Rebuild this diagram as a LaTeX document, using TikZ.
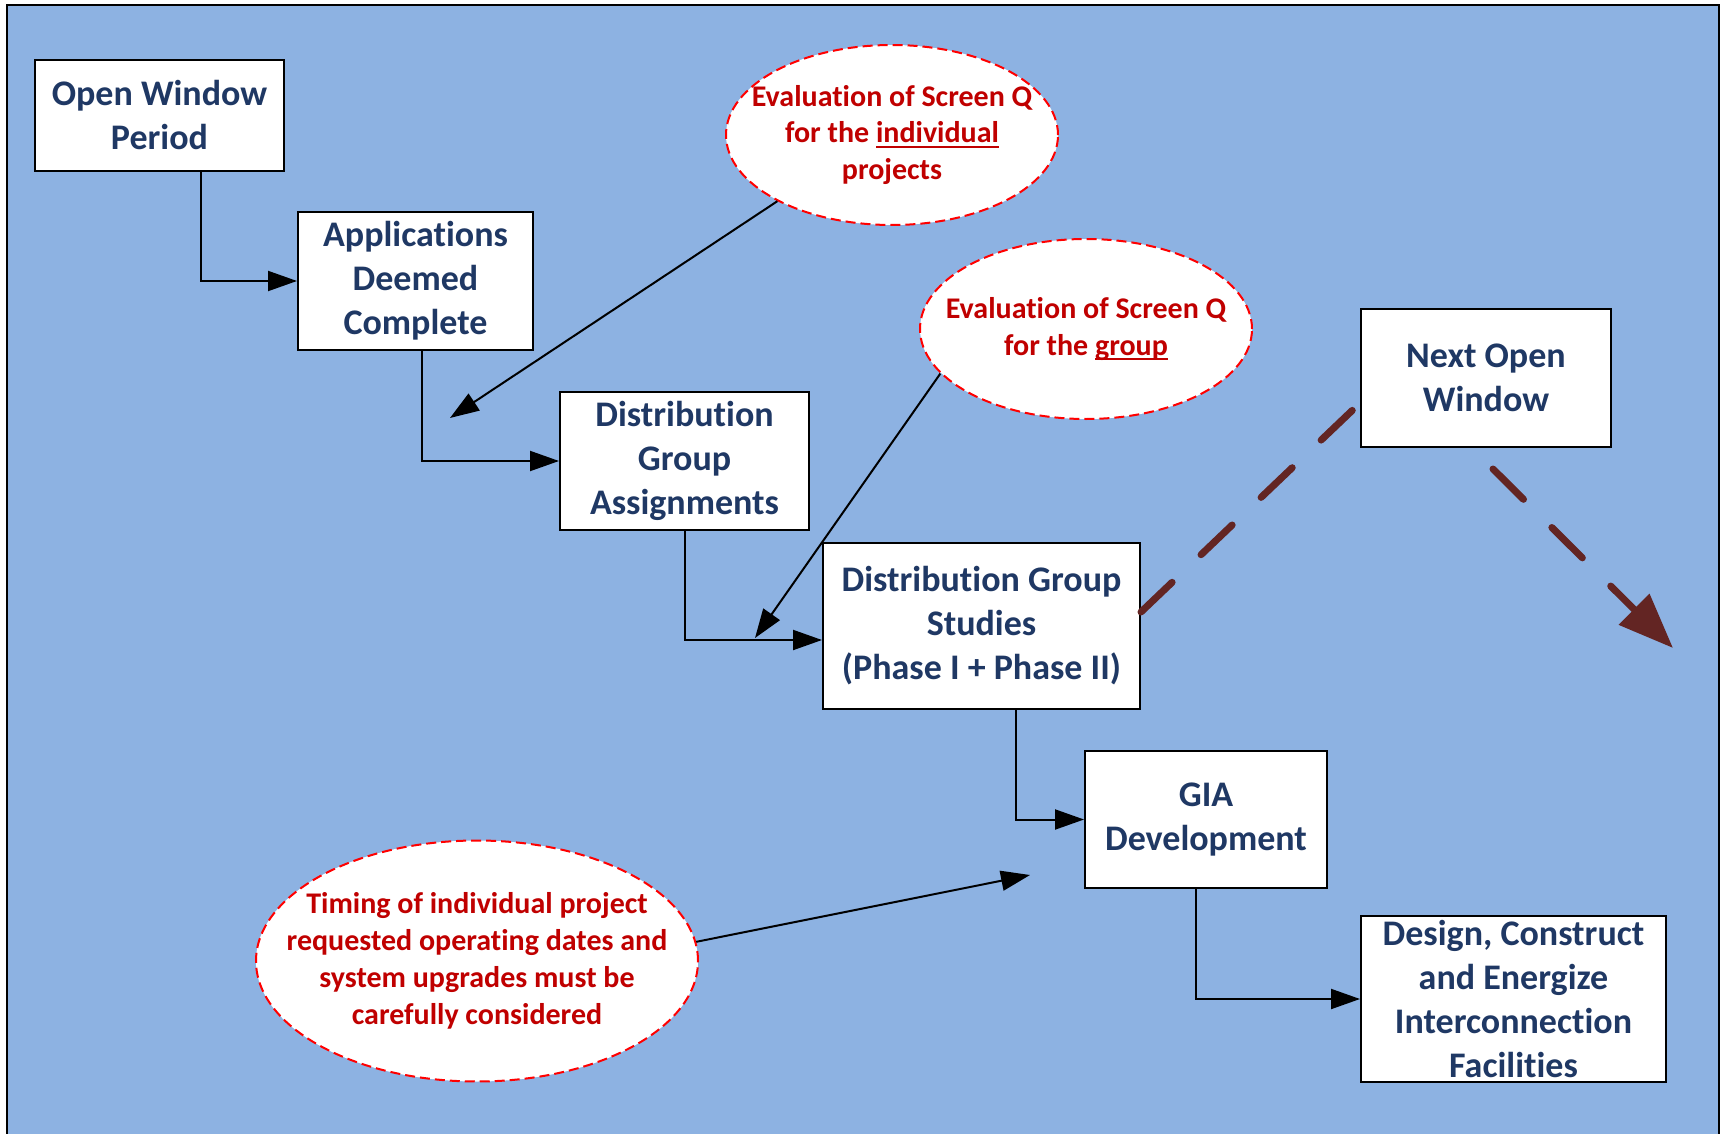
\documentclass[tikz,border=0pt]{standalone}
\usepackage{fontspec}
\setmainfont{Carlito}[Ligatures=NoCommon]
\usetikzlibrary{shapes.geometric,arrows.meta}
\definecolor{bgblue}{RGB}{141,178,226}
\definecolor{navy}{RGB}{31,56,100}
\definecolor{dred}{RGB}{192,0,0}
\definecolor{brownred}{RGB}{99,37,35}
\newcommand\myul[1]{\setbox0\hbox{#1}\rlap{\rule[-5pt]{\wd0}{2pt}}\box0}
\begin{document}
\begin{tikzpicture}[x=1pt,y=-1pt,
 box/.style={draw=black,line width=2pt,fill=white,text=navy,font=\bfseries\fontsize{36}{44}\selectfont,align=center,inner sep=0pt},
 ell/.style={ellipse,draw=red,line width=2pt,fill=white,inner sep=0pt,dash pattern=on 10pt off 5pt},
 etext/.style={text=dred,font=\bfseries\fontsize{30}{36.8}\selectfont,align=center,inner sep=0pt},
 arr/.style={draw=black,line width=2pt,-{Triangle[length=29pt,width=20pt]}},
 marr/.style={draw=brownred,line width=7pt,line cap=round,dash pattern=on 43pt off 40pt}]
\useasboundingbox (0,0) rectangle (1721,1134);
\draw[line width=2pt,fill=bgblue] (7,5) rectangle (1719,1150);

% boxes
\node[box,minimum width=249pt,minimum height=111pt] (owp) at (159.5,115.5) {Open Window\\Period};
\node[box,minimum width=235pt,minimum height=138pt] (apps) at (415.5,281) {Applications\\Deemed\\Complete};
\node[box,minimum width=249pt,minimum height=138pt] (dga) at (684.5,461) {Distribution\\Group\\Assignments};
\node[box,minimum width=317pt,minimum height=166pt] (dgs) at (981.5,626) {Distribution Group\\Studies\\(Phase I + Phase II)};
\node[box,minimum width=250pt,minimum height=138pt] (now) at (1486,378) {Next Open\\Window};
\node[box,minimum width=242pt,minimum height=137pt] (gia) at (1206,819.5) {GIA\\Development};
\node[box,minimum width=305pt,minimum height=166pt] (dce) at (1513.5,999) {Design, Construct\\and Energize\\Interconnection\\Facilities};

% ellipses
\node[ell,minimum width=332pt,minimum height=180pt] (e1) at (892,135) {};
\node[etext] (e1t) at (e1.center) {Evaluation of Screen Q\\for the \myul{individual}\\projects};
\node[ell,minimum width=332pt,minimum height=180pt] (e2) at (1086,329) {};
\node[etext] (e2t) at (e2.center) {Evaluation of Screen Q\\for the \myul{group}};
\node[ell,minimum width=442pt,minimum height=241pt] (e3) at (477,961) {};
\node[etext] (e3t) at (e3.center) {Timing of individual project\\requested operating dates and\\system upgrades must be\\carefully considered};

% free ends
\coordinate (t1) at (450,418);
\coordinate (t2) at (755,638);
\coordinate (t3) at (1030,875);
\coordinate (mend) at (1673,648);

% flow connectors
\draw[arr] ([xshift=41.5pt]owp.south) |- (apps.west);
\draw[arr] ([xshift=6.5pt]apps.south) |- (dga.west);
\draw[arr] (dga.south) |- ([yshift=-14pt]dgs.west);
\draw[arr] ([xshift=34.5pt]dgs.south) |- (gia.west);
\draw[arr] ([xshift=-10pt]gia.south) |- (dce.west);

% annotation arrows
\draw[arr] (e1.210) -- (t1);
\draw[arr] (e2.197) -- (t2);
\draw[arr] (e3.5) -- (t3);

% next window dashed arrows
\draw[marr] ([yshift=14pt]dgs.east) -- ([yshift=-25pt]now.west);
\draw[marr,-{Triangle[length=55pt,width=42pt]}] ([xshift=7pt,yshift=-21pt]now.south) -- (mend);
\end{tikzpicture}
\end{document}
